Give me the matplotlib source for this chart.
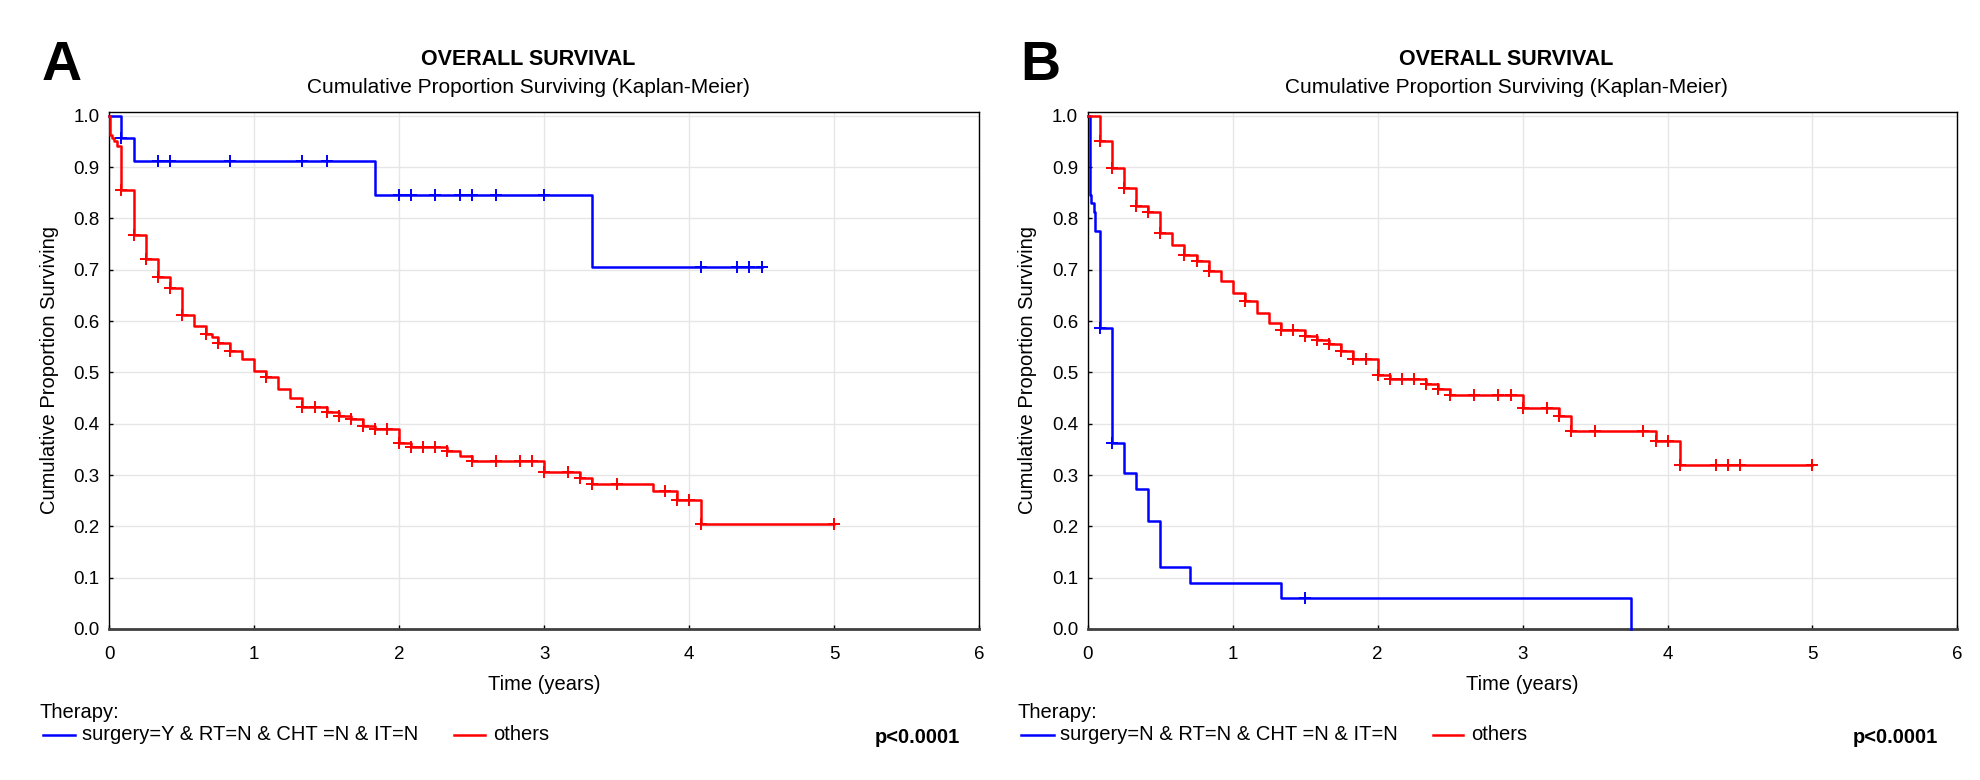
import numpy as np
import matplotlib
matplotlib.use('Agg')
import matplotlib.pyplot as plt
from matplotlib.lines import Line2D

plt.rcParams['font.family'] = ['Liberation Sans', 'DejaVu Sans']

# ---- data (time in years, survival proportion) ----
# panel A
a_blue_t = [0.0, 0.083, 0.167, 1.833, 3.333]
a_blue_s = [1.0, 0.956, 0.911, 0.846, 0.705]
a_blue_end = 4.5
a_blue_cens = [0.083, 0.333, 0.417, 0.833, 1.333, 1.5, 2.0, 2.083, 2.25, 2.417,
               2.5, 2.667, 3.0, 4.083, 4.333, 4.417, 4.5]

a_red_t = [0.0, 0.005, 0.02, 0.035, 0.05, 0.083, 0.167, 0.25, 0.333, 0.417, 0.5,
           0.583, 0.667, 0.708, 0.75, 0.833, 0.917, 1.0, 1.083, 1.167, 1.25, 1.333,
           1.5, 1.583, 1.667, 1.75, 1.833, 2.0, 2.083, 2.333, 2.417, 2.5, 3.0,
           3.25, 3.333, 3.75, 3.917, 4.083]
a_red_s = [1.0, 0.962, 0.957, 0.951, 0.941, 0.856, 0.767, 0.721, 0.685, 0.664, 0.612,
           0.591, 0.574, 0.569, 0.557, 0.542, 0.526, 0.502, 0.491, 0.468, 0.451, 0.433,
           0.422, 0.416, 0.409, 0.396, 0.390, 0.362, 0.355, 0.347, 0.338, 0.328, 0.306,
           0.294, 0.282, 0.268, 0.251, 0.204]
a_red_end = 5.0
a_red_cens = [0.083, 0.167, 0.25, 0.333, 0.417, 0.5, 0.667, 0.75, 0.833, 1.083,
              1.333, 1.417, 1.5, 1.583, 1.667, 1.75, 1.833, 1.917, 2.0, 2.083,
              2.167, 2.25, 2.333, 2.5, 2.667, 2.833, 2.917, 3.0, 3.167, 3.25,
              3.333, 3.5, 3.833, 3.917, 4.0, 4.083, 5.0]

# panel B
b_blue_t = [0.0, 0.012, 0.02, 0.04, 0.05, 0.083, 0.167, 0.25, 0.333, 0.417, 0.5,
            0.708, 1.333, 3.75]
b_blue_s = [1.0, 0.846, 0.83, 0.812, 0.776, 0.587, 0.362, 0.303, 0.273, 0.21, 0.12,
            0.09, 0.06, 0.0]
b_blue_end = 3.75
b_blue_cens = [0.083, 0.167, 1.5]

b_red_t = [0.0, 0.083, 0.167, 0.25, 0.333, 0.417, 0.5, 0.583, 0.667, 0.75, 0.833,
           0.917, 1.0, 1.083, 1.167, 1.25, 1.333, 1.5, 1.583, 1.667, 1.75, 1.833,
           2.0, 2.083, 2.333, 2.417, 2.5, 3.0, 3.25, 3.333, 3.917, 4.083]
b_red_s = [1.0, 0.951, 0.898, 0.859, 0.825, 0.813, 0.771, 0.748, 0.729, 0.717, 0.698,
           0.679, 0.654, 0.640, 0.615, 0.596, 0.583, 0.570, 0.563, 0.555, 0.541, 0.526,
           0.495, 0.487, 0.478, 0.468, 0.455, 0.430, 0.415, 0.385, 0.366, 0.320]
b_red_end = 5.0
b_red_cens = [0.083, 0.167, 0.25, 0.333, 0.417, 0.5, 0.667, 0.75, 0.833, 1.083,
              1.333, 1.417, 1.5, 1.583, 1.667, 1.75, 1.833, 1.917, 2.0, 2.083,
              2.167, 2.25, 2.333, 2.417, 2.5, 2.667, 2.833, 2.917, 3.0, 3.167,
              3.25, 3.333, 3.5, 3.833, 3.917, 4.0, 4.083, 4.333, 4.417, 4.5, 5.0]

labels_a = ['surgery=Y & RT=N & CHT =N & IT=N', 'others']
labels_b = ['surgery=N & RT=N & CHT =N & IT=N', 'others']

BLUE = '#0000ff'
RED = '#ff0000'


def km(ax, t, s, end, cens, color):
    x = np.array(t + [end])
    y = np.array(s + [s[-1]])
    ax.step(x, y, where='post', color=color, lw=1.8, zorder=3, clip_on=False)
    tt = np.array(t)
    c = np.array(cens)
    idx = np.searchsorted(tt, c + 1e-6, side='right') - 1
    cy = np.array(s)[idx]
    ax.plot(c, cy, ls='none', marker='+', ms=8, mew=1.4, color=color,
            zorder=4, clip_on=False)


fig = plt.figure(figsize=(19.8, 7.8), dpi=100)

panels = [
    (0.0552, 'A', a_blue_t, a_blue_s, a_blue_end, a_blue_cens,
     a_red_t, a_red_s, a_red_end, a_red_cens, labels_a),
    (0.5494, 'B', b_blue_t, b_blue_s, b_blue_end, b_blue_cens,
     b_red_t, b_red_s, b_red_end, b_red_cens, labels_b),
]

for left, letter, bt, bs, be, bc, rt, rs, re, rc, labs in panels:
    ax = fig.add_axes([left, 0.1936, 0.4392, 0.6632])
    km(ax, bt, bs, be, bc, BLUE)
    km(ax, rt, rs, re, rc, RED)
    ax.set_xlim(0, 6)
    ax.set_ylim(0, 1.008)
    ax.set_xticks(range(7))
    ax.set_yticks(np.arange(0, 1.01, 0.1))
    ax.set_yticklabels(['%.1f' % v for v in np.arange(0, 1.01, 0.1)])
    ax.grid(True, color='#e6e6e6', lw=1)
    ax.set_axisbelow(True)
    ax.tick_params(direction='in', length=3, labelsize=13.5, width=1)
    ax.tick_params(axis='y', pad=7)
    ax.tick_params(axis='x', pad=12.5)
    for sp in ax.spines.values():
        sp.set_linewidth(1.0)
        sp.set_color('black')
    ax.spines['bottom'].set_linewidth(2.0)
    ax.spines['bottom'].set_color('#404040')
    ax.set_xlabel('Time (years)', fontsize=14.5)
    ax.set_ylabel('Cumulative Proportion Surviving', fontsize=14.5)
    ax.xaxis.set_label_coords(0.5, -0.089)
    ax.yaxis.set_label_coords(-0.058, 0.5)

    off = (left - 0.0552)
    cx = 0.2667 + off
    fig.text(cx, 0.924, 'OVERALL SURVIVAL', fontsize=15.5, fontweight='bold',
             ha='center', va='center')
    fig.text(cx, 0.888, 'Cumulative Proportion Surviving (Kaplan-Meier)',
             fontsize=15, ha='center', va='center')

    fig.text(0.021 + off, 0.916, letter, fontsize=40, fontweight='bold',
             ha='left', va='center')

    # legend
    fig.text(0.0197 + off, 0.087, 'Therapy:', fontsize=14.5, ha='left', va='center')
    fig.add_artist(Line2D([0.0217 + off, 0.0379 + off], [0.058, 0.058],
                          color=BLUE, lw=1.8))
    fig.text(0.0414 + off, 0.058, labs[0], fontsize=14.5, ha='left', va='center')
    fig.add_artist(Line2D([0.2293 + off, 0.2449 + off], [0.058, 0.058],
                          color=RED, lw=1.8))
    fig.text(0.249 + off, 0.058, labs[1], fontsize=14.5, ha='left', va='center')
    fig.text(0.4848 + off, 0.055, 'p<0.0001', fontsize=14.5, fontweight='bold',
             ha='right', va='center')

fig.savefig('out.png', dpi=100)
